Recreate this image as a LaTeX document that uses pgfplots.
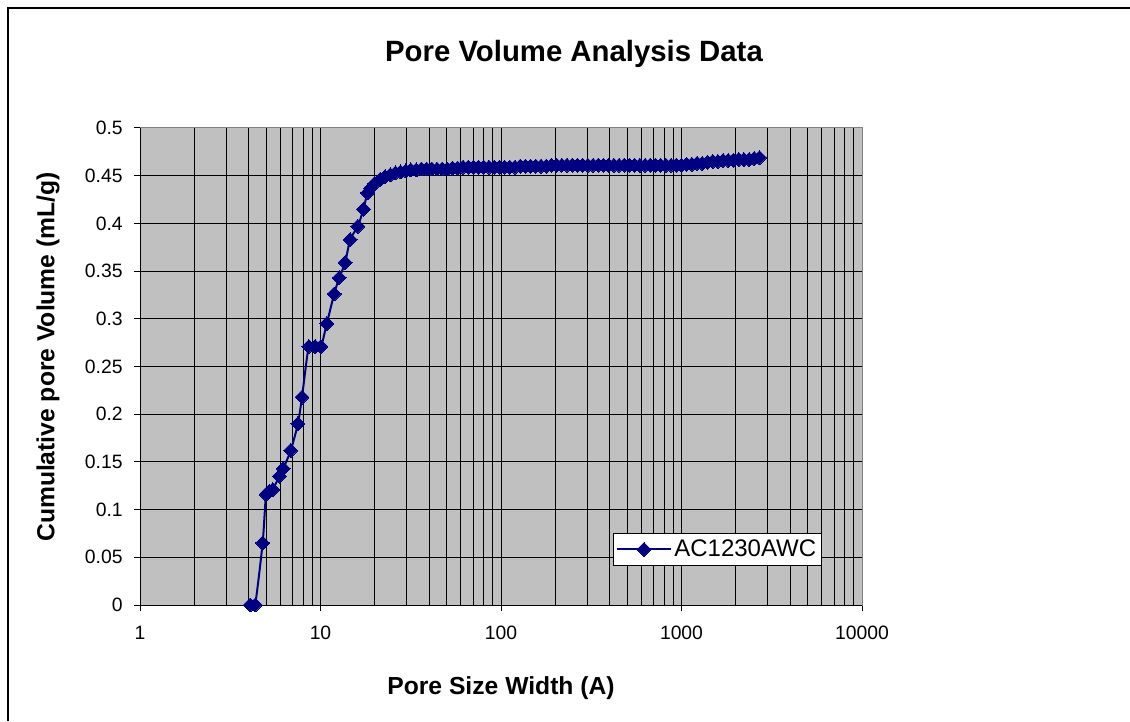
\documentclass[border=0pt]{standalone}
\usepackage{pgfplots}
\pgfplotsset{compat=1.18}
\usepackage{fontspec}
\setmainfont{Liberation Sans}
\definecolor{plotbg}{HTML}{C0C0C0}
\definecolor{navyblue}{HTML}{000080}

\begin{document}
\begin{tikzpicture}[x=0.75pt,y=0.75pt]
% page = 1130 x 721 px, 1px = 0.75pt, y measured from bottom
\path[use as bounding box] (0,0) rectangle (1130,721);
\draw[line width=1.5pt] (8,0) -- (8,713) -- (1130,713);

\begin{axis}[
    at={(105pt,87pt)}, anchor=south west,
    scale only axis,
    width=541.5pt, height=357.75pt,
    xmode=log,
    xmin=1, xmax=10000,
    ymin=0, ymax=0.5,
    xtick={1,10,100,1000,10000},
    xticklabels={1,10,100,1000,10000},
    ytick distance=0.05,
    yticklabel style={/pgf/number format/fixed,/pgf/number format/precision=2},
    /pgf/number format/assume math mode=true,
    tick label style={font=\fontsize{14.5}{17}\selectfont},
    xticklabel style={yshift=-8pt},
    yticklabel style={xshift=-5pt},
    tick pos=left,
    tick align=outside,
    major tick length=4.5pt,
    minor tick length=0pt,
    tick style={black, line width=0.75pt},
    axis background/.style={fill=plotbg},
    axis line style={draw=gray, line width=0.75pt},
    xmajorgrids=true, xminorgrids=true, ymajorgrids=true,
    major grid style={black, line width=0.75pt},
    minor grid style={black, line width=0.75pt},
    clip=false,
    legend style={at={(0.9446,0.0818)}, anchor=south east,
        draw=black, fill=white, line width=0.75pt,
        font=\fontsize{18}{20}\selectfont,
        inner xsep=2pt, inner ysep=3pt},
    legend cell align=left,
    legend image code/.code={%
        \draw[mark repeat=2,mark phase=2] plot coordinates {(0pt,0pt) (20pt,0pt) (40pt,0pt)};},
]
\addplot[navyblue, line width=1.5pt, smooth, tension=0.4,
    mark=square*, mark size=3.7pt,
    mark options={rotate=45, fill=navyblue, draw=navyblue, line width=0pt}]
coordinates {
(4.07,0) (4.34,0) (4.78,0.065) (4.99,0.116) (5.20,0.119) (5.44,0.121)
(5.91,0.135) (6.22,0.143) (6.84,0.162) (7.50,0.190) (7.90,0.218)
(8.61,0.271) (9.33,0.271) (10.06,0.271) (10.84,0.295) (11.9,0.326)
(12.7,0.343) (13.7,0.359) (14.6,0.383) (16.1,0.397) (17.3,0.415)
(18.2,0.432) (19.0,0.437) (20.0,0.442) (21.4,0.446)
(22.8,0.449) (24.4,0.451) (26.0,0.453) (27.8,0.454) (29.7,0.455)
(31.7,0.456) (33.9,0.456) (36.2,0.457) (38.7,0.457) (41.4,0.457)
(44.2,0.457) (47.2,0.457) (50.5,0.457) (53.9,0.458) (57.6,0.458)
(61.6,0.459) (65.8,0.459) (70.3,0.459) (75.1,0.459) (80.3,0.459)
(85.8,0.459) (91.7,0.459) (98.0,0.459) (104.7,0.459) (111.9,0.459)
(119.6,0.459) (127.8,0.460) (136.5,0.460) (145.9,0.460) (155.9,0.460)
(166.6,0.460) (178.0,0.460) (190.2,0.461) (203.3,0.461) (217.2,0.461)
(232.1,0.461) (248.1,0.461) (265.1,0.461) (283.3,0.461) (302.7,0.461)
(323.5,0.461) (345.7,0.461) (369.4,0.461) (394.7,0.461) (421.8,0.461)
(450.8,0.461) (481.7,0.461) (514.7,0.461) (550.0,0.461) (587.8,0.461)
(628.1,0.461) (671.2,0.461) (717.3,0.461) (766.5,0.461) (819.1,0.461)
(875.3,0.461) (935.3,0.461) (999.5,0.461) (1068,0.462) (1141,0.462)
(1220,0.463) (1303,0.463) (1393,0.464) (1488,0.465) (1590,0.465)
(1699,0.466) (1816,0.466) (1941,0.466) (2074,0.467) (2216,0.467)
(2368,0.467) (2531,0.468) (2704,0.469)
};
\addlegendentry{AC1230AWC}
\draw[black, line width=0.75pt] (rel axis cs:0,1) -- (rel axis cs:0,0) -- (rel axis cs:1,0);
\end{axis}

\node[anchor=base, font=\bfseries\fontsize{22}{26}\selectfont] at (574,659) {Pore Volume Analysis Data};
\node[anchor=base, font=\bfseries\fontsize{18.5}{22}\selectfont] at (501,27) {Pore Size Width (A)};
\node[rotate=90, font=\bfseries\fontsize{18.5}{22}\selectfont] at (48,364) {Cumulative pore Volume (mL/g)};
\end{tikzpicture}
\end{document}
